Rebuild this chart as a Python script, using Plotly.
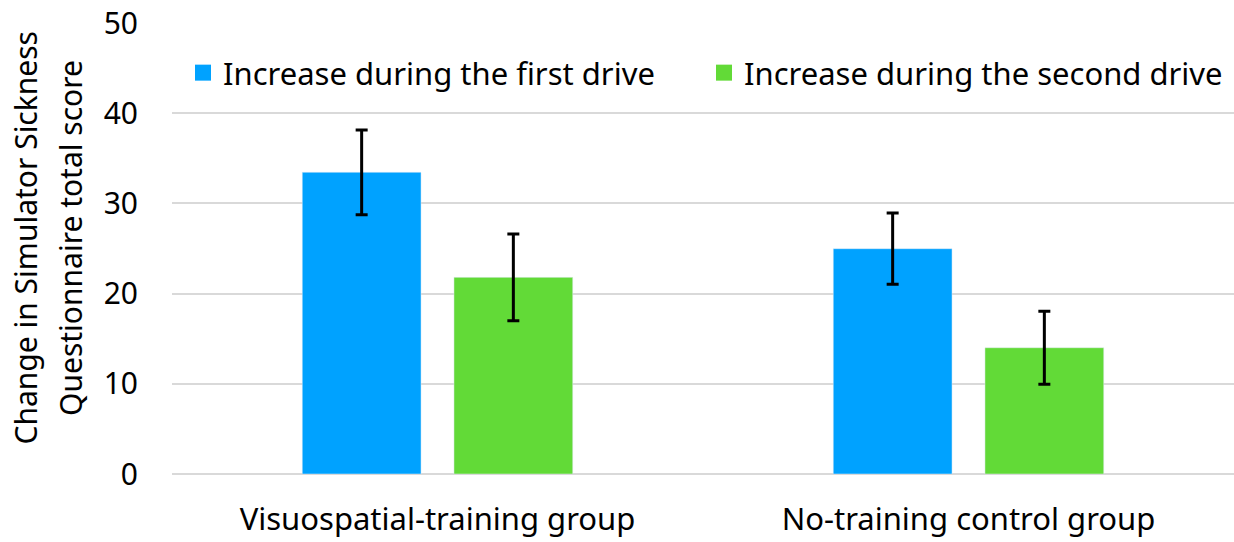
import plotly.graph_objects as go

categories = ["Visuospatial-training group", "No-training control group"]
first_drive = [33.45, 24.98]
first_err = [4.7, 3.95]
second_drive = [21.8, 14.0]
second_err = [4.8, 4.05]
series_names = ["Increase during the first drive", "Increase during the second drive"]
y_ticks = [0, 10, 20, 30, 40, 50]
y_title_lines = ["Change in Simulator Sickness", "Questionnaire total score"]

BLUE = "#00A2FF"
GREEN = "#62DA37"
FONT = "Noto Sans"

fig = go.Figure()
fig.add_trace(go.Bar(x=categories, y=first_drive, name=series_names[0], marker_color=BLUE,
                     error_y=dict(type="data", array=first_err, color="black", thickness=3, width=6),
                     showlegend=False))
fig.add_trace(go.Bar(x=categories, y=second_drive, name=series_names[1], marker_color=GREEN,
                     error_y=dict(type="data", array=second_err, color="black", thickness=3, width=6),
                     showlegend=False))
# legend entries
fig.add_trace(go.Scatter(x=[None], y=[None], mode="markers", name=series_names[0],
                         marker=dict(symbol="square", size=20, color=BLUE), legend="legend"))
fig.add_trace(go.Scatter(x=[None], y=[None], mode="markers", name=series_names[1],
                         marker=dict(symbol="square", size=20, color=GREEN), legend="legend2"))

W, H = 1234, 542
L, R, T, B = 172, 0, 23, 68
pw = W - L - R
ph = H - T - B

def px_x(x):
    return (x - L) / pw

def px_y(y):
    return (H - B - y) / ph

fig.update_layout(
    width=W, height=H,
    margin=dict(l=L, r=R, t=T, b=B),
    paper_bgcolor="white", plot_bgcolor="white",
    font=dict(family=FONT, size=30, color="black"),
    barmode="group", bargap=0.4286, bargroupgap=0.217,
    legend=dict(x=px_x(183), y=px_y(73), xanchor="left", yanchor="middle",
                font=dict(size=31), bgcolor="rgba(0,0,0,0)", itemsizing="trace"),
    legend2=dict(x=px_x(704), y=px_y(73), xanchor="left", yanchor="middle",
                 font=dict(size=31), bgcolor="rgba(0,0,0,0)", itemsizing="trace"),
    xaxis=dict(showgrid=False, showline=False, ticks="", tickfont=dict(size=31),
               ticklabelstandoff=24, automargin=False),
    yaxis=dict(range=[0, 50], tickvals=y_ticks, showgrid=True, gridcolor="#D9D9D9", gridwidth=2,
               zeroline=True, zerolinecolor="#D9D9D9", zerolinewidth=2, showline=False,
               ticks="", tickfont=dict(size=30), ticklabelstandoff=33, automargin=False),
    annotations=[
        dict(text=y_title_lines[0], xref="paper", yref="paper", x=0, y=0.5,
             xanchor="center", yanchor="middle", xshift=25 - L, yshift=248.5 - 237.5,
             textangle=-90, showarrow=False, font=dict(size=30)),
        dict(text=y_title_lines[1], xref="paper", yref="paper", x=0, y=0.5,
             xanchor="center", yanchor="middle", xshift=70 - L, yshift=248.5 - 238,
             textangle=-90, showarrow=False, font=dict(size=30)),
    ],
)

fig.write_html("out.html")
